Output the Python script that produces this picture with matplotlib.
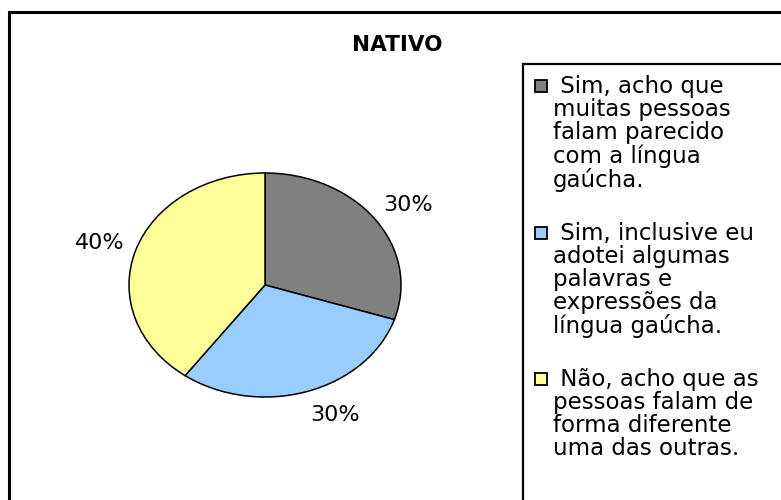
import numpy as np
import matplotlib
matplotlib.use("Agg")
import matplotlib.pyplot as plt
from matplotlib.patches import Rectangle

plt.rcParams['font.family'] = ['DejaVu Sans']

# data
title = "NATIVO"
labels = [
    " Sim, acho que\nmuitas pessoas\nfalam parecido\ncom a língua\ngaúcha.",
    " Sim, inclusive eu\nadotei algumas\npalavras e\nexpressões da\nlíngua gaúcha.",
    " Não, acho que as\npessoas falam de\nforma diferente\numa das outras.",
]
values = [30, 30, 40]
colors = ["#808080", "#99CCFF", "#FFFF99"]
label_shift = [-2, 6, 1]  # degrees, nudges the % labels like Excel does

W, H = 781, 500
fig = plt.figure(figsize=(W / 100, H / 100), dpi=100)


def fx(px):
    return px / W


def fy(py):
    return 1 - py / H


# outer chart frame (runs off the right / bottom edge)
fig.add_artist(Rectangle((fx(8.5), fy(520)), fx(800), fy(12) - fy(520),
                         transform=fig.transFigure, fill=False,
                         edgecolor="black", linewidth=2.2))

fig.text(fx(397), fy(45), title, ha="center", va="center",
         fontsize=15.5, fontweight="bold")

# pie (elliptical, like the Excel original)
ax = fig.add_axes([fx(129), fy(397), fx(272), fy(173) - fy(397)])
wedges, _ = ax.pie(values, colors=colors, startangle=90, counterclock=False,
                   wedgeprops=dict(edgecolor="black", linewidth=1.1))
ax.set_aspect("auto")
ax.set_xlim(-1, 1)
ax.set_ylim(-1, 1)
for w, v, d in zip(wedges, values, label_shift):
    mid = np.deg2rad((w.theta1 + w.theta2) / 2 + d)
    ax.text(1.27 * np.cos(mid), 1.27 * np.sin(mid), f"{v}%", ha="center",
            va="center", fontsize=16, clip_on=False)

# legend box
fig.add_artist(Rectangle((fx(523), fy(520)), fx(300), fy(64) - fy(520),
                         transform=fig.transFigure, fill=False,
                         edgecolor="black", linewidth=1.6))

base = 92
step = 146.5
for i, (lab, c) in enumerate(zip(labels, colors)):
    b = base + i * step
    fig.add_artist(Rectangle((fx(535), fy(b)), fx(12), fy(b - 12) - fy(b),
                             transform=fig.transFigure, facecolor=c,
                             edgecolor="black", linewidth=1.3))
    fig.text(fx(553), fy(b - 17), lab, ha="left", va="top", fontsize=16.5,
             linespacing=1.0)

fig.savefig("out.png", dpi=100)
